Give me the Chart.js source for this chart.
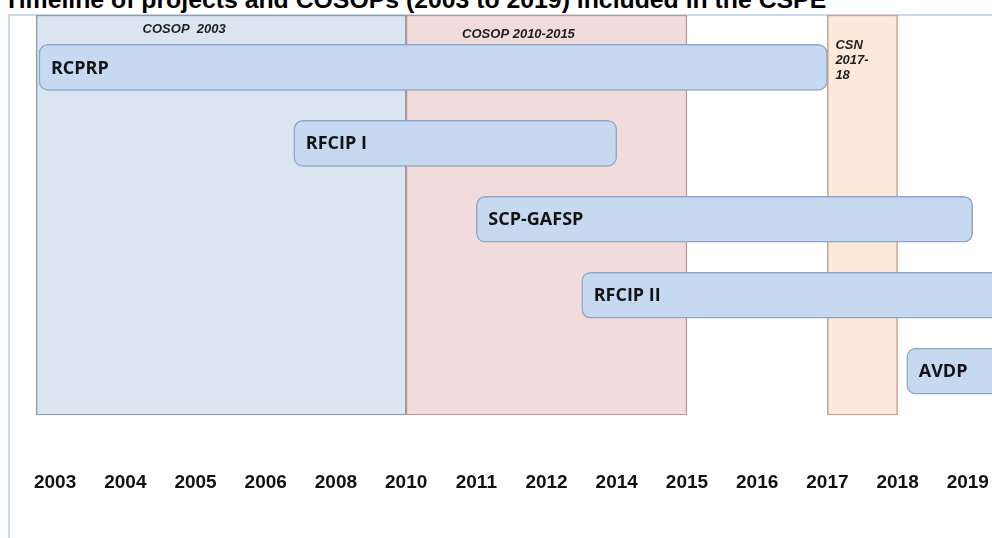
<!DOCTYPE html>
<html>
<head>
<meta charset="utf-8">
<script src="https://cdn.jsdelivr.net/npm/chart.js@4"></script>
<style>
    body { margin: 0; overflow: hidden; background: #fff; }
    .title {
        position: absolute; left: 4px; top: -13px; white-space: nowrap;
        font: bold 24.8px/25px "Liberation Sans", Arial, sans-serif; color: #000;
    }
    .frame {
        position: absolute; left: 8px; top: 14px; width: 1100px; height: 600px;
        border-left: 2px solid #c9d8ec; border-top: 2px solid #c9d8ec;
    }
    .chart-box { position: absolute; left: 0; top: 0; width: 1038px; height: 538px; }
</style>
</head>
<body>
<div class="title">Timeline of projects and COSOPs (2003 to 2019) included in the CSPE</div>
<div class="frame"></div>
<div class="chart-box"><canvas id="timelineChart"></canvas></div>
<script>
// Tick labels along the bottom (the axis uses their order, 0..13)
const yearLabels = ['2003', '2004', '2005', '2006', '2008', '2010', '2011', '2012', '2014', '2015', '2016', '2017', '2018', '2019'];

// Country strategy periods (background blocks)
const periodNames = [['COSOP  2003'], ['COSOP 2010-2015'], ['CSN', '2017-', '18']];
const periodStart = [-0.27, 5, 11];
const periodEnd = [5, 9, 12];

// Projects
const projectNames = ['RCPRP', 'RFCIP I', 'SCP-GAFSP', 'RFCIP II', 'AVDP'];
const projectStart = [-0.23, 3.4, 6, 7.5, 12.13];
const projectEnd = [11, 8, 13.07, 14, 14];

const periodColors = ['#dbe4f1', '#f2dcdb', '#fde9da'];
const periodBorders = ['#8d9bb0', '#b99a9c', '#c9a08f'];

// Draws the text inside the blocks and bars
const barLabels = {
    id: 'barLabels',
    afterDatasetsDraw(chart) {
        const ctx = chart.ctx;
        const top = chart.chartArea.top;
        ctx.save();

        chart.getDatasetMeta(1).data.forEach((bar, i) => {
            const p = bar.getProps(['x', 'base']);
            const left = Math.min(p.x, p.base);
            const width = Math.abs(p.x - p.base);
            const lines = periodNames[i];
            ctx.font = 'italic bold 13px "Liberation Sans", Arial, sans-serif';
            ctx.fillStyle = '#1e1e1e';
            if (lines.length > 1) {
                ctx.textAlign = 'left';
                ctx.textBaseline = 'middle';
                lines.forEach((line, k) => ctx.fillText(line, left + 8, top + 30 + k * 15));
            } else {
                ctx.textAlign = 'center';
                ctx.textBaseline = 'middle';
                ctx.fillText(lines[0], left + width * 0.4, top + 14 + i * 5);
            }
        });

        chart.getDatasetMeta(0).data.forEach((bar, i) => {
            const p = bar.getProps(['x', 'y', 'base']);
            const left = Math.min(p.x, p.base);
            ctx.font = 'bold 18px "Open Sans", sans-serif';
            ctx.fillStyle = '#141414';
            ctx.textAlign = 'left';
            ctx.textBaseline = 'middle';
            ctx.fillText(projectNames[i], left + 12, p.y + 1);
        });
        ctx.restore();
    }
};

function initTimelineChart() {
    const ctx = document.getElementById('timelineChart').getContext('2d');

    new Chart(ctx, {
        type: 'bar',
        data: {
            datasets: [
                {
                    label: 'Projects',
                    data: projectNames.map((name, i) => ({ x: [projectStart[i], projectEnd[i]], y: i })),
                    yAxisID: 'y',
                    order: 1,
                    grouped: false,
                    backgroundColor: '#c6d9f1',
                    borderColor: '#8fa7c6',
                    borderWidth: 1.5,
                    borderRadius: 9,
                    borderSkipped: false,
                    barThickness: 46
                },
                {
                    label: 'Periods',
                    data: periodNames.map((name, i) => ({ x: [periodStart[i], periodEnd[i]], y: 'all' })),
                    yAxisID: 'yPeriod',
                    order: 2,
                    grouped: false,
                    backgroundColor: periodColors,
                    borderColor: periodBorders,
                    borderWidth: 1.5,
                    borderSkipped: false,
                    barPercentage: 1,
                    categoryPercentage: 1
                }
            ]
        },
        options: {
            indexAxis: 'y',
            responsive: true,
            maintainAspectRatio: false,
            animation: false,
            layout: {
                padding: { left: 20, right: 0, top: 15, bottom: 40 }
            },
            plugins: {
                legend: { display: false },
                tooltip: { enabled: false }
            },
            scales: {
                x: {
                    type: 'linear',
                    min: -0.5,
                    max: 14,
                    grid: {
                        display: true,
                        drawOnChartArea: false,
                        drawTicks: true,
                        tickLength: 52,
                        tickColor: 'rgba(0,0,0,0)'
                    },
                    border: { display: false },
                    afterBuildTicks: function(axis) {
                        axis.ticks = yearLabels.map((label, i) => ({ value: i }));
                    },
                    ticks: {
                        padding: 4,
                        autoSkip: false,
                        maxRotation: 0,
                        color: '#111',
                        font: {
                            family: '"Liberation Sans", Arial, sans-serif',
                            size: 19,
                            weight: 'bold'
                        },
                        callback: function(value) {
                            return yearLabels[value];
                        }
                    }
                },
                y: {
                    type: 'linear',
                    reverse: true,
                    offset: false,
                    min: -0.69,
                    max: 4.58,
                    display: false
                },
                yPeriod: {
                    type: 'category',
                    labels: ['all'],
                    offset: true,
                    display: false
                }
            }
        },
        plugins: [barLabels]
    });
}

document.addEventListener('DOMContentLoaded', function() {
    initTimelineChart();
});
</script>
</body>
</html>
